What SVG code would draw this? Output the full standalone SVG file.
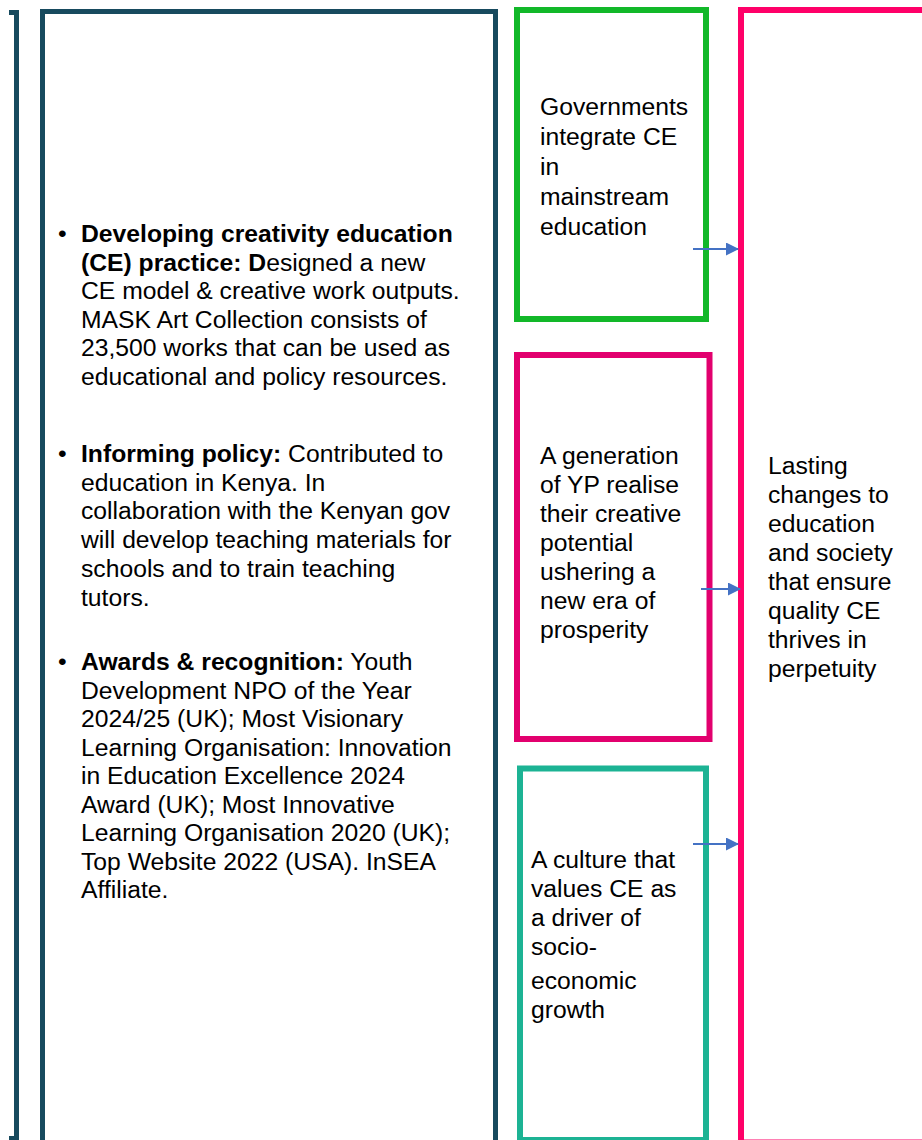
<svg xmlns="http://www.w3.org/2000/svg" width="922" height="1140" viewBox="0 0 922 1140">
<style>
.t{font-family:"Liberation Sans",Arial,sans-serif;font-size:24.7px;fill:#000}
.b{font-weight:bold}
.box{fill:none}
.arr{stroke:#4472C4;stroke-width:2;fill:none}
</style>
<defs>
<marker id="ah" markerWidth="13" markerHeight="13" refX="12" refY="6.5" orient="auto" markerUnits="userSpaceOnUse">
<path d="M0,0 L13,6.5 L0,13 Z" fill="#4472C4"/>
</marker>
</defs>
<rect width="922" height="1140" fill="#fff"/>
<g id="left-bracket">
<path class="box" d="M9 12.5 H16.5 V1138.5 H9" stroke="#174A5E" stroke-width="5"/>
</g>
<g id="outputs">
<rect class="box" x="42.5" y="11.5" width="453" height="1131" stroke="#174A5E" stroke-width="5"/>
<text class="t">
<tspan x="58" y="242">•</tspan><tspan x="81" y="242" class="b">Developing creativity education</tspan>
<tspan x="81" y="270.5"><tspan class="b">(CE) practice: D</tspan>esigned a new</tspan>
<tspan x="81" y="299">CE model &amp; creative work outputs.</tspan>
<tspan x="81" y="327.5">MASK Art Collection consists of</tspan>
<tspan x="81" y="356">23,500 works that can be used as</tspan>
<tspan x="81" y="384.5">educational and policy resources.</tspan>
</text>
<text class="t">
<tspan x="58" y="462">•</tspan><tspan x="81" y="462"><tspan class="b">Informing policy:</tspan> Contributed to</tspan>
<tspan x="81" y="490.7">education in Kenya. In</tspan>
<tspan x="81" y="519.4">collaboration with the Kenyan gov</tspan>
<tspan x="81" y="548.1">will develop teaching materials for</tspan>
<tspan x="81" y="576.8">schools and to train teaching</tspan>
<tspan x="81" y="605.5">tutors.</tspan>
</text>
<text class="t">
<tspan x="58" y="670">•</tspan><tspan x="81" y="670"><tspan class="b">Awards &amp; recognition:</tspan> Youth</tspan>
<tspan x="81" y="698.5">Development NPO of the Year</tspan>
<tspan x="81" y="727">2024/25 (UK); Most Visionary</tspan>
<tspan x="81" y="755.5">Learning Organisation: Innovation</tspan>
<tspan x="81" y="784">in Education Excellence 2024</tspan>
<tspan x="81" y="812.5">Award (UK); Most Innovative</tspan>
<tspan x="81" y="841">Learning Organisation 2020 (UK);</tspan>
<tspan x="81" y="869.5">Top Website 2022 (USA). InSEA</tspan>
<tspan x="81" y="898">Affiliate.</tspan>
</text>
</g>
<g id="gov">
<rect class="box" x="517" y="10" width="189" height="309" stroke="#12B829" stroke-width="6"/>
<text class="t">
<tspan x="540" y="115">Governments</tspan>
<tspan x="540" y="145">integrate CE</tspan>
<tspan x="540" y="175">in</tspan>
<tspan x="540" y="205">mainstream</tspan>
<tspan x="540" y="235">education</tspan>
</text>
</g>
<g id="generation">
<rect class="box" x="517" y="355" width="192.5" height="384" stroke="#E2006E" stroke-width="6"/>
<text class="t">
<tspan x="540" y="464">A generation</tspan>
<tspan x="540" y="493">of YP realise</tspan>
<tspan x="540" y="522">their creative</tspan>
<tspan x="540" y="551">potential</tspan>
<tspan x="540" y="580">ushering a</tspan>
<tspan x="540" y="609">new era of</tspan>
<tspan x="540" y="638">prosperity</tspan>
</text>
</g>
<g id="culture">
<rect class="box" x="520" y="768.5" width="186" height="371.5" stroke="#1CB394" stroke-width="6"/>
<text class="t">
<tspan x="531" y="868">A culture that</tspan>
<tspan x="531" y="897">values CE as</tspan>
<tspan x="531" y="926">a driver of</tspan>
<tspan x="531" y="955">socio-</tspan>
<tspan x="531" y="989">economic</tspan>
<tspan x="531" y="1018">growth</tspan>
</text>
</g>
<g id="lasting">
<rect class="box" x="741" y="10" width="200" height="1132.5" stroke="#FF0068" stroke-width="6"/>
<text class="t">
<tspan x="768" y="474">Lasting</tspan>
<tspan x="768" y="503">changes to</tspan>
<tspan x="768" y="532">education</tspan>
<tspan x="768" y="561">and society</tspan>
<tspan x="768" y="590">that ensure</tspan>
<tspan x="768" y="619">quality CE</tspan>
<tspan x="768" y="648">thrives in</tspan>
<tspan x="768" y="677">perpetuity</tspan>
</text>
</g>
<g id="connectors">
<line class="arr" x1="693" y1="249" x2="738" y2="249" marker-end="url(#ah)"/>
<line class="arr" x1="701" y1="589" x2="740" y2="589" marker-end="url(#ah)"/>
<line class="arr" x1="693" y1="844" x2="738" y2="844" marker-end="url(#ah)"/>
</g>
</svg>
